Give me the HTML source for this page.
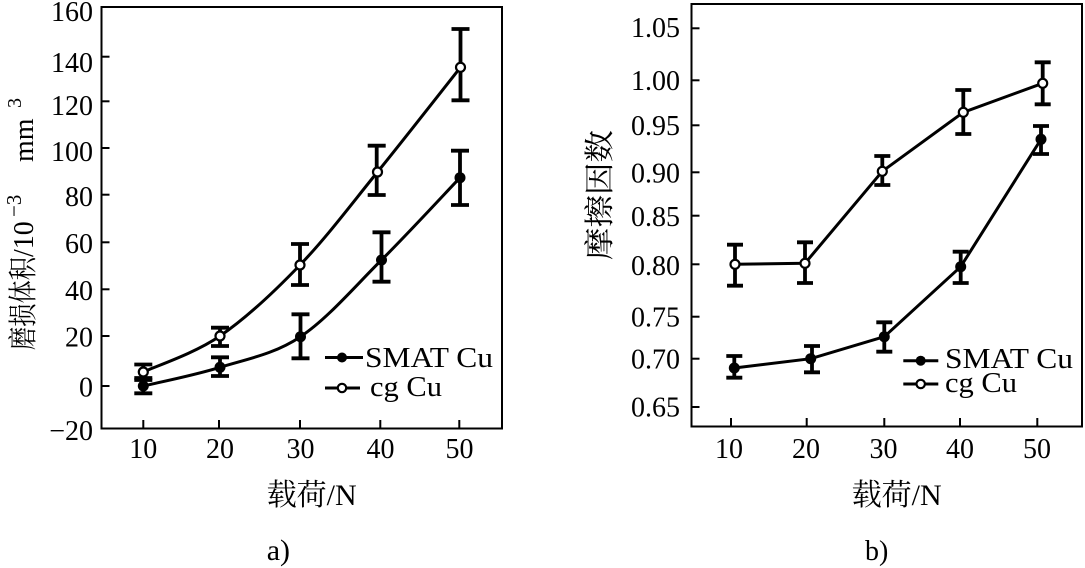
<!DOCTYPE html>
<html>
<head>
<meta charset="utf-8">
<style>
  html,body{margin:0;padding:0;background:#fff;}
  svg{display:block;}
  text{font-family:"Liberation Serif","Noto Serif CJK SC",serif;fill:#000;}
</style>
</head>
<body>
<svg width="1085" height="568" viewBox="0 0 1085 568" xmlns="http://www.w3.org/2000/svg">
  <rect x="0" y="0" width="1085" height="568" fill="#fff"/>

  <!-- ================= LEFT CHART ================= -->
  <rect x="101.5" y="7" width="400.5" height="421.5" fill="none" stroke="#000" stroke-width="2"/>
  <g stroke="#000" stroke-width="2">
    <line x1="101.5" y1="56.7" x2="109.5" y2="56.7"/>
    <line x1="101.5" y1="101.3" x2="109.5" y2="101.3"/>
    <line x1="101.5" y1="148" x2="109.5" y2="148"/>
    <line x1="101.5" y1="194.7" x2="109.5" y2="194.7"/>
    <line x1="101.5" y1="242.3" x2="109.5" y2="242.3"/>
    <line x1="101.5" y1="289.3" x2="109.5" y2="289.3"/>
    <line x1="101.5" y1="336" x2="109.5" y2="336"/>
    <line x1="101.5" y1="386" x2="109.5" y2="386"/>
    <line x1="143.3" y1="428.5" x2="143.3" y2="420"/>
    <line x1="219" y1="428.5" x2="219" y2="420"/>
    <line x1="300" y1="428.5" x2="300" y2="420"/>
    <line x1="380.3" y1="428.5" x2="380.3" y2="420"/>
    <line x1="459.3" y1="428.5" x2="459.3" y2="420"/>
  </g>
  <g font-size="28" text-anchor="end">
    <text x="93" y="21">160</text>
    <text x="93" y="72">140</text>
    <text x="93" y="115">120</text>
    <text x="93" y="161">100</text>
    <text x="93" y="206">80</text>
    <text x="93" y="253">60</text>
    <text x="93" y="300">40</text>
    <text x="93" y="346.5">20</text>
    <text x="93" y="396.5">0</text>
    <text x="93" y="440">−20</text>
  </g>
  <g font-size="28" text-anchor="middle">
    <text x="143.3" y="458">10</text>
    <text x="220" y="458">20</text>
    <text x="300.5" y="458">30</text>
    <text x="380.5" y="458">40</text>
    <text x="459.5" y="458">50</text>
  </g>
  <text x="266.7" y="505" font-size="30" textLength="90" lengthAdjust="spacingAndGlyphs">载荷/N</text>
  <text x="266.7" y="560" font-size="30">a)</text>
  <g transform="translate(33,350) rotate(-90)">
    <text x="0" y="0" font-size="29" textLength="93" lengthAdjust="spacingAndGlyphs">磨损体积</text>
    <text x="93" y="0" font-size="28">/10</text>
    <text x="133" y="-12" font-size="21">−3</text>
    <text x="188" y="0" font-size="28">mm</text>
    <text x="242" y="-12" font-size="20">3</text>
  </g>

  <path d="M143.3,372 C156.1,366 193.9,353.8 220,336 C246.1,318.2 273.75,292.3 300,265 C326.25,237.7 350.75,204.95 377.5,172 C404.25,139.05 446.67,84.75 460.5,67.3" fill="none" stroke="#000" stroke-width="3"/>
  <path d="M143.3,386 C156.1,382.9 193.8,375.5 220,367.3 C246.2,359.1 273.6,354.6 300.5,336.7 C327.4,318.8 354.9,286.5 381.5,260 C408.1,233.5 446.9,191.4 460,177.7" fill="none" stroke="#000" stroke-width="3"/>

  <g stroke="#000" stroke-width="3.8" fill="none">
    <path d="M143.3,364.5V380 M134.3,364.5H152.3 M134.3,380H152.3"/>
    <path d="M220,327.7V346 M211,327.7H229 M211,346H229"/>
    <path d="M300,244V285 M291,244H309 M291,285H309"/>
    <path d="M376.7,145.7V195 M367.7,145.7H385.7 M367.7,195H385.7"/>
    <path d="M460.5,29V100.3 M451.5,29H469.5 M451.5,100.3H469.5"/>
    <path d="M143.3,378V393.3 M134.3,378H152.3 M134.3,393.3H152.3"/>
    <path d="M220,357.3V376 M211,357.3H229 M211,376H229"/>
    <path d="M300.5,314.3V358.3 M291.5,314.3H309.5 M291.5,358.3H309.5"/>
    <path d="M381.5,232.3V281.7 M372.5,232.3H390.5 M372.5,281.7H390.5"/>
    <path d="M460,150.7V205 M451,150.7H469 M451,205H469"/>
  </g>
  <g fill="#000">
    <circle cx="143.3" cy="386" r="5.5"/>
    <circle cx="220" cy="367.3" r="5.5"/>
    <circle cx="300.5" cy="336.7" r="5.5"/>
    <circle cx="381.5" cy="260" r="5.5"/>
    <circle cx="460" cy="177.7" r="5.5"/>
  </g>
  <g fill="#fff" stroke="#000" stroke-width="2.2">
    <circle cx="143.3" cy="372" r="4.5"/>
    <circle cx="220" cy="336" r="4.5"/>
    <circle cx="300" cy="265" r="4.5"/>
    <circle cx="377.5" cy="172" r="4.5"/>
    <circle cx="460.5" cy="67.3" r="4.5"/>
  </g>
  <line x1="325" y1="357.5" x2="363" y2="357.5" stroke="#000" stroke-width="3"/>
  <circle cx="342" cy="357.5" r="5" fill="#000"/>
  <text x="365" y="367" font-size="28" textLength="128" lengthAdjust="spacingAndGlyphs">SMAT Cu</text>
  <line x1="325" y1="388" x2="360" y2="388" stroke="#000" stroke-width="3"/>
  <circle cx="342" cy="388" r="4.2" fill="#fff" stroke="#000" stroke-width="2.2"/>
  <text x="370" y="396" font-size="28" textLength="72" lengthAdjust="spacingAndGlyphs">cg Cu</text>

  <!-- ================= RIGHT CHART ================= -->
  <rect x="691.5" y="4" width="390.5" height="422.5" fill="none" stroke="#000" stroke-width="2"/>
  <g stroke="#000" stroke-width="2">
    <line x1="691.5" y1="28.3" x2="699.5" y2="28.3"/>
    <line x1="691.5" y1="80.3" x2="699.5" y2="80.3"/>
    <line x1="691.5" y1="125.3" x2="699.5" y2="125.3"/>
    <line x1="691.5" y1="172.3" x2="699.5" y2="172.3"/>
    <line x1="691.5" y1="215.7" x2="699.5" y2="215.7"/>
    <line x1="691.5" y1="264.3" x2="699.5" y2="264.3"/>
    <line x1="691.5" y1="316.7" x2="699.5" y2="316.7"/>
    <line x1="691.5" y1="358.7" x2="699.5" y2="358.7"/>
    <line x1="691.5" y1="407" x2="699.5" y2="407"/>
    <line x1="731" y1="426.5" x2="731" y2="418"/>
    <line x1="806.7" y1="426.5" x2="806.7" y2="418"/>
    <line x1="884.3" y1="426.5" x2="884.3" y2="418"/>
    <line x1="960" y1="426.5" x2="960" y2="418"/>
    <line x1="1037.3" y1="426.5" x2="1037.3" y2="418"/>
  </g>
  <g font-size="28" text-anchor="end">
    <text x="680" y="37">1.05</text>
    <text x="680" y="90">1.00</text>
    <text x="680" y="135">0.95</text>
    <text x="680" y="182.5">0.90</text>
    <text x="680" y="226">0.85</text>
    <text x="680" y="275">0.80</text>
    <text x="680" y="326.7">0.75</text>
    <text x="680" y="368.7">0.70</text>
    <text x="680" y="416.7">0.65</text>
  </g>
  <g font-size="28" text-anchor="middle">
    <text x="729" y="458">10</text>
    <text x="806" y="458">20</text>
    <text x="883.5" y="458">30</text>
    <text x="960" y="458">40</text>
    <text x="1037" y="458">50</text>
  </g>
  <text x="851.7" y="505" font-size="30" textLength="90" lengthAdjust="spacingAndGlyphs">载荷/N</text>
  <text x="865" y="560" font-size="28">b)</text>
  <text transform="translate(610,260) rotate(-90)" x="0" y="0" font-size="30" textLength="130" lengthAdjust="spacingAndGlyphs">摩擦因数</text>

  <polyline points="735,264.3 805,263.3 882.3,171.3 963.3,112.3 1042.7,83.3" fill="none" stroke="#000" stroke-width="3"/>
  <polyline points="734.3,368 810.7,358.7 884.3,336.7 960.7,266.7 1041,139.3" fill="none" stroke="#000" stroke-width="3"/>

  <g stroke="#000" stroke-width="3.8" fill="none">
    <path d="M735,244.7V285.7 M727,244.7H743 M727,285.7H743"/>
    <path d="M805,242.3V283 M797,242.3H813 M797,283H813"/>
    <path d="M882.3,156V185 M874.3,156H890.3 M874.3,185H890.3"/>
    <path d="M963.3,90V134 M955.3,90H971.3 M955.3,134H971.3"/>
    <path d="M1042.7,62.3V104.3 M1034.7,62.3H1050.7 M1034.7,104.3H1050.7"/>
    <path d="M734.3,356V377.7 M726.3,356H742.3 M726.3,377.7H742.3"/>
    <path d="M812,346V372.3 M804,346H820 M804,372.3H820"/>
    <path d="M884.3,322.3V351.7 M876.3,322.3H892.3 M876.3,351.7H892.3"/>
    <path d="M960.7,251.7V283 M952.7,251.7H968.7 M952.7,283H968.7"/>
    <path d="M1041,126V154 M1033,126H1049 M1033,154H1049"/>
  </g>
  <g fill="#000">
    <circle cx="734.3" cy="368" r="5.5"/>
    <circle cx="810.7" cy="358.7" r="5.5"/>
    <circle cx="884.3" cy="336.7" r="5.5"/>
    <circle cx="960.7" cy="266.7" r="5.5"/>
    <circle cx="1041" cy="139.3" r="5.5"/>
  </g>
  <g fill="#fff" stroke="#000" stroke-width="2.2">
    <circle cx="735" cy="264.3" r="4.5"/>
    <circle cx="805" cy="263.3" r="4.5"/>
    <circle cx="882.3" cy="171.3" r="4.5"/>
    <circle cx="963.3" cy="112.3" r="4.5"/>
    <circle cx="1042.7" cy="83.3" r="4.5"/>
  </g>
  <line x1="903.3" y1="360.7" x2="938.3" y2="360.7" stroke="#000" stroke-width="3"/>
  <circle cx="920.7" cy="360.7" r="5" fill="#000"/>
  <text x="945" y="368" font-size="28" textLength="128" lengthAdjust="spacingAndGlyphs">SMAT Cu</text>
  <line x1="903.3" y1="384" x2="938.3" y2="384" stroke="#000" stroke-width="3"/>
  <circle cx="920.7" cy="384" r="4.2" fill="#fff" stroke="#000" stroke-width="2.2"/>
  <text x="945" y="392" font-size="28" textLength="72" lengthAdjust="spacingAndGlyphs">cg Cu</text>
</svg>
</body>
</html>
